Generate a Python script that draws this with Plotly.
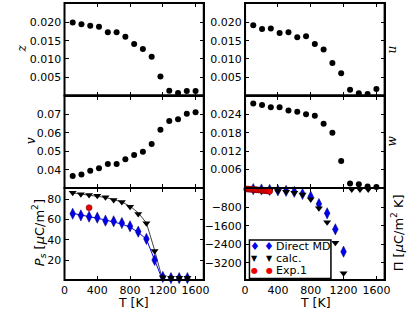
import plotly.graph_objects as go

# ---------------- data ----------------
T_fit = [100, 207, 314, 421, 529, 636, 743, 850, 957, 1064, 1171, 1279, 1386, 1493, 1600]
z_vals = [0.0200, 0.0195, 0.0191, 0.0188, 0.0173, 0.0173, 0.0161, 0.0141, 0.0127, 0.0106,
          0.0052, 0.0013, 0.0007, 0.0012, 0.0012]
u_vals = [0.0192, 0.0182, 0.0183, 0.0171, 0.0173, 0.0159, 0.0162, 0.0141, 0.0126, 0.0089,
          0.0061, 0.0016, 0.0006, 0.0004, 0.0018]
v_vals = [0.0368, 0.0375, 0.0396, 0.0409, 0.0432, 0.0432, 0.0457, 0.0480, 0.0498, 0.0539,
          0.0616, 0.0663, 0.0672, 0.0702, 0.0710]
w_vals = [0.0276, 0.0271, 0.0264, 0.0264, 0.0253, 0.0249, 0.0241, 0.0236, 0.0210, 0.0180,
          0.0088, 0.0015, 0.0012, 0.0005, 0.0003]

T_md = [100, 200, 300, 400, 500, 600, 700, 800, 900, 1000, 1100, 1200, 1300, 1400, 1500]
Ps_md = [65.6, 64.0, 62.7, 61.7, 58.8, 58.2, 56.5, 53.3, 48.0, 40.9, 20.3, 3.7, 2.6, 2.6, 2.6]
Ps_md_err = [1.5] * 15
Ps_calc = [86.2, 84.6, 83.9, 83.3, 81.7, 79.0, 77.0, 72.5, 65.3, 56.2, 29.1, 3.5, 3.0, 3.0, 3.0]
Ps_calc_err = [0.8] * 11 + [2.5, 2.5, 2.5, 2.5]

T_line = [100, 200, 300, 400, 500, 600, 700, 800, 900, 1000, 1100, 1200]
Ps_calc_line = [86.0, 85.0, 84.0, 83.0, 81.5, 79.5, 77.0, 73.0, 66.5, 56.5, 30.0, 0.0]
Ps_md_line = [66.0, 64.5, 63.0, 61.5, 59.5, 57.5, 55.5, 52.5, 47.5, 40.5, 21.0, 0.0]

T_exp = [300]
Ps_exp = [71.5]

T_pi_md = [100, 200, 300, 400, 500, 600, 700, 800, 900, 1000, 1100, 1200]
Pi_md = [-15, -30, -50, -70, -90, -130, -224, -341, -657, -1060, -1753, -2724]
Pi_md_err = [20, 20, 20, 25, 25, 30, 40, 50, 80, 90, 100, 110]
Pi_calc = [-20, -40, -60, -94, -124, -167, -250, -453, -843, -1450, -2333, -3660, -30, -30, -30]
T_pi_exp = [20, 40, 60, 80, 100, 120, 140, 160, 180, 200, 220, 240, 260, 280, 300]
Pi_exp = [-8, -12, -18, -24, -30, -36, -42, -48, -55, -62, -70, -78, -86, -95, -105]

legend_labels = ["Direct MD", "calc.", "Exp.1"]
x_ticks = [0, 400, 800, 1200, 1600]

# ---------------- figure ----------------
W, H = 415, 312
fig = go.Figure()

BLUE = "#0000ee"
RED = "#ee0000"

def dots(x, y, xa, ya):
    fig.add_trace(go.Scatter(x=x, y=y, mode="markers", xaxis=xa, yaxis=ya,
                             marker=dict(color="black", size=6), showlegend=False,
                             cliponaxis=False))

dots(T_fit, z_vals, "x", "y")
dots(T_fit, u_vals, "x2", "y2")
dots(T_fit, v_vals, "x3", "y3")
dots(T_fit, w_vals, "x4", "y4")

# Ps panel
fig.add_trace(go.Scatter(x=T_line, y=Ps_calc_line, mode="lines", xaxis="x5", yaxis="y5",
                         line=dict(color="#444444", width=1), showlegend=False))
fig.add_trace(go.Scatter(x=T_line, y=Ps_md_line, mode="lines", xaxis="x5", yaxis="y5",
                         line=dict(color=BLUE, width=1), showlegend=False))
fig.add_trace(go.Scatter(x=T_md, y=Ps_md, mode="markers", xaxis="x5", yaxis="y5",
                         marker=dict(color=BLUE, symbol="diamond-tall", size=8,
                                     line=dict(color="#000066", width=0.5)),
                         error_y=dict(type="data", array=Ps_md_err, color=BLUE, thickness=1, width=0),
                         showlegend=False, cliponaxis=False))
fig.add_trace(go.Scatter(x=T_md, y=Ps_calc, mode="markers", xaxis="x5", yaxis="y5",
                         marker=dict(color="black", symbol="triangle-down", size=7),
                         error_y=dict(type="data", array=Ps_calc_err, color="black", thickness=1, width=0),
                         showlegend=False, cliponaxis=False))
fig.add_trace(go.Scatter(x=T_exp, y=Ps_exp, mode="markers", xaxis="x5", yaxis="y5",
                         marker=dict(color=RED, size=6, line=dict(color="#660000", width=0.5)),
                         showlegend=False))

# Pi panel
fig.add_trace(go.Scatter(x=T_pi_md, y=Pi_md, mode="markers", xaxis="x6", yaxis="y6",
                         name=legend_labels[0], showlegend=False,
                         marker=dict(color=BLUE, symbol="diamond-tall", size=8,
                                     line=dict(color="#000066", width=0.5)),
                         error_y=dict(type="data", array=Pi_md_err, color=BLUE, thickness=1, width=0),
                         cliponaxis=False))
fig.add_trace(go.Scatter(x=T_md, y=Pi_calc, mode="markers", xaxis="x6", yaxis="y6",
                         name=legend_labels[1], showlegend=False,
                         marker=dict(color="black", symbol="triangle-down", size=7),
                         cliponaxis=False))
fig.add_trace(go.Scatter(x=T_pi_exp, y=Pi_exp, mode="markers", xaxis="x6", yaxis="y6",
                         name=legend_labels[2], showlegend=False,
                         marker=dict(color=RED, size=6, line=dict(color="#660000", width=0.5)),
                         cliponaxis=False))

# ---------------- layout ----------------
colx = [(62 / W, 204.7 / W), (247 / W, 390 / W)]
rowy = [(1 - 95.5 / H, 1 - 3 / H), (1 - 188 / H, 1 - 95.5 / H), (1 - 280 / H, 1 - 188 / H)]

tickfont = dict(family="DejaVu Sans", size=11, color="black")
axis_common = dict(showline=True, linecolor="black", linewidth=1, mirror="ticks",
                   ticks="inside", ticklen=4, tickcolor="black", tickwidth=1,
                   showgrid=False, zeroline=False, tickfont=tickfont)

yranges = [[0, 0.0253], [0, 0.0253], [0.0303, 0.080], [0, 0.0302], [0.7, 90.8], [-3950, 35]]
yticks = [[0.005, 0.010, 0.015, 0.020], [0.005, 0.010, 0.015, 0.020],
          [0.04, 0.05, 0.06, 0.07], [0.006, 0.012, 0.018, 0.024],
          [20, 40, 60, 80], [-800, -1600, -2400, -3200]]
yfmt = [".3f", ".3f", ".2f", ".3f", "d", "d"]

layout = dict(width=W, height=H, margin=dict(l=0, r=0, t=0, b=0),
              paper_bgcolor="white", plot_bgcolor="white", showlegend=False,
              font=dict(family="DejaVu Sans", color="black"))

shapes = []
for i in range(6):
    r, c = divmod(i, 2)
    sfx = "" if i == 0 else str(i + 1)
    layout["xaxis" + sfx] = dict(domain=list(colx[c]), anchor="y" + sfx, range=[0, 1700],
                                 tickvals=x_ticks, showticklabels=(r == 2), **axis_common)
    layout["yaxis" + sfx] = dict(domain=list(rowy[r]), anchor="x" + sfx, range=yranges[i],
                                 tickvals=yticks[i], tickformat=yfmt[i], **axis_common)
    shapes.append(dict(type="rect", xref="paper", yref="paper",
                       x0=colx[c][0], x1=colx[c][1], y0=rowy[r][0], y1=rowy[r][1],
                       line=dict(color="black", width=2), layer="above"))

# legend box (drawn manually, matplotlib style)
lx0, lx1, ly0, ly1 = 251.5, 335, 240, 278.5
shapes.append(dict(type="rect", xref="paper", yref="paper",
                   x0=lx0 / W, x1=lx1 / W, y0=1 - ly1 / H, y1=1 - ly0 / H,
                   line=dict(color="black", width=1.5), fillcolor="white", layer="above"))
layout["shapes"] = shapes
fig.update_layout(**layout)

def ann(text, x, y, angle=0, size=13, family="DejaVu Sans", color="black", xanchor="center"):
    fig.add_annotation(text=text, x=x / W, y=1 - y / H, xref="paper", yref="paper",
                       showarrow=False, textangle=angle, xanchor=xanchor, yanchor="middle",
                       font=dict(family=family, size=size, color=color))

ann("<i>z</i>", 18, 49, -90, 12, "DejaVu Serif")
ann("<i>v</i>", 28, 141, -90, 12, "DejaVu Serif")
ann("<i>P<sub>s</sub></i> [<i>μ</i>C/m<sup>2</sup>]", 36, 233, -90, 13)
ann("<i>u</i>", 398, 49, -90, 12, "DejaVu Serif")
ann("<i>w</i>", 398, 141, -90, 12, "DejaVu Serif")
ann("Π [<i>μ</i>C/m<sup>2</sup> K]", 403, 233, -90, 13)
ann("T [K]", 133, 302.5, 0, 12.5)
ann("T [K]", 319, 302.5, 0, 12.5)

# legend entries
rows_y = [246.5, 258, 270]
glyphs = [("♦", BLUE, 11), ("▼", "black", 8), ("●", RED, 8)]
for (g, col, sz), yy, lab in zip(glyphs, rows_y, legend_labels):
    ann(g, 257, yy, 0, sz, "DejaVu Sans", col)
    ann(g, 272, yy, 0, sz, "DejaVu Sans", col)
    ann(lab, 277, yy, 0, 11, "DejaVu Sans", "black", "left")

fig.write_html("out.html", config={"displayModeBar": False},
               post_script="document.body.style.margin='0';document.body.style.padding='0';")
